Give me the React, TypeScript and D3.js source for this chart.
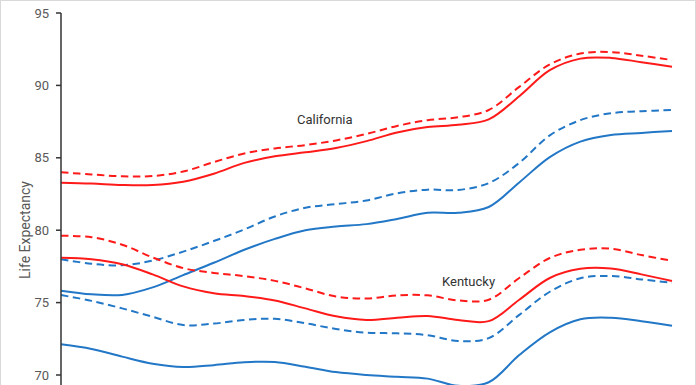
import * as d3 from 'd3';
import React from 'react';

// one point per year, no x axis shown in the chart
const years = d3.range(2000, 2021);

const caRedDashed = [84.0, 83.85, 83.72, 83.74, 84.05, 84.7, 85.3, 85.65, 85.88, 86.2, 86.65, 87.2, 87.6, 87.8, 88.3, 89.9, 91.45, 92.2, 92.3, 92.05, 91.75];
const caRedSolid = [83.28, 83.22, 83.12, 83.12, 83.35, 83.9, 84.65, 85.1, 85.38, 85.68, 86.15, 86.75, 87.12, 87.28, 87.65, 89.25, 91.05, 91.85, 91.9, 91.6, 91.29];
const caBlueDashed = [78.0, 77.68, 77.58, 77.9, 78.52, 79.25, 80.05, 80.95, 81.55, 81.8, 82.05, 82.55, 82.8, 82.78, 83.25, 84.65, 86.55, 87.6, 88.08, 88.22, 88.3];
const caBlueSolid = [75.82, 75.57, 75.53, 76.05, 76.9, 77.75, 78.65, 79.4, 80.0, 80.25, 80.42, 80.78, 81.2, 81.2, 81.6, 83.3, 85.05, 86.12, 86.58, 86.72, 86.85];
const kyRedDashed = [79.62, 79.52, 79.0, 78.12, 77.38, 77.05, 76.83, 76.5, 75.98, 75.42, 75.28, 75.5, 75.5, 75.15, 75.2, 76.7, 78.08, 78.65, 78.72, 78.28, 77.89];
const kyRedSolid = [78.1, 78.0, 77.65, 76.95, 76.12, 75.65, 75.45, 75.15, 74.6, 74.05, 73.8, 73.95, 74.08, 73.8, 73.72, 75.2, 76.7, 77.33, 77.35, 76.95, 76.49];
const kyBlueDashed = [75.52, 75.12, 74.6, 74.02, 73.45, 73.55, 73.8, 73.88, 73.57, 73.18, 72.92, 72.88, 72.75, 72.35, 72.55, 74.15, 75.75, 76.68, 76.84, 76.6, 76.37];
const kyBlueSolid = [72.12, 71.8, 71.27, 70.78, 70.55, 70.68, 70.88, 70.9, 70.57, 70.2, 70.0, 69.88, 69.75, 69.25, 69.5, 71.38, 72.95, 73.85, 73.95, 73.72, 73.4];

const yTicks = [70, 75, 80, 85, 90, 95];

const RED = '#ff1a1a';
const BLUE = '#2277c6';

const series = [
  { values: caRedDashed, color: RED, dashed: true },
  { values: caRedSolid, color: RED, dashed: false },
  { values: caBlueDashed, color: BLUE, dashed: true },
  { values: caBlueSolid, color: BLUE, dashed: false },
  { values: kyRedDashed, color: RED, dashed: true },
  { values: kyRedSolid, color: RED, dashed: false },
  { values: kyBlueDashed, color: BLUE, dashed: true },
  { values: kyBlueSolid, color: BLUE, dashed: false }
];

const App = () => {
  const width = 696;
  const height = 385;
  const font = 'Roboto, "Open Sans", sans-serif';

  const x = d3.scaleLinear().domain([2000, 2020]).range([61, 672]);
  const y = d3.scaleLinear().domain([70, 95]).range([375, 13]);

  const line = d3
    .line<number>()
    .x((_, i) => x(years[i]))
    .y((d) => y(d))
    .curve(d3.curveCatmullRom.alpha(0.5));

  return (
    <svg
      width={width}
      height={height}
      style={{ position: 'absolute', left: 0, top: 0, background: '#fff' }}
    >
      <rect x={0.5} y={0.5} width={width - 1} height={height + 20} fill="none" stroke="#d9d9d9" />

      {series.map((s, i) => (
        <path
          key={i}
          d={line(s.values) || ''}
          fill="none"
          stroke={s.color}
          strokeWidth={2}
          strokeDasharray={s.dashed ? '7.5,4.5' : undefined}
        />
      ))}

      {/* y axis */}
      <line x1={61} x2={61} y1={y(95)} y2={height} stroke="#333" strokeWidth={1.5} />
      {yTicks.map((t) => (
        <g key={t}>
          <line x1={56} x2={61} y1={y(t)} y2={y(t)} stroke="#333" strokeWidth={1.5} />
          <text
            x={49}
            y={y(t)}
            dy="0.35em"
            textAnchor="end"
            fontFamily={font}
            fontSize={13}
            fill="#595959"
          >
            {t}
          </text>
        </g>
      ))}
      <text
        transform={`translate(30, 230) rotate(-90)`}
        textAnchor="middle"
        fontFamily={font}
        fontSize={14}
        fill="#595959"
      >
        Life Expectancy
      </text>

      <text x={297} y={124} fontFamily={font} fontSize={13} fill="#333">
        California
      </text>
      <text x={442} y={286} fontFamily={font} fontSize={13} fill="#333">
        Kentucky
      </text>
    </svg>
  );
};

export default App;
